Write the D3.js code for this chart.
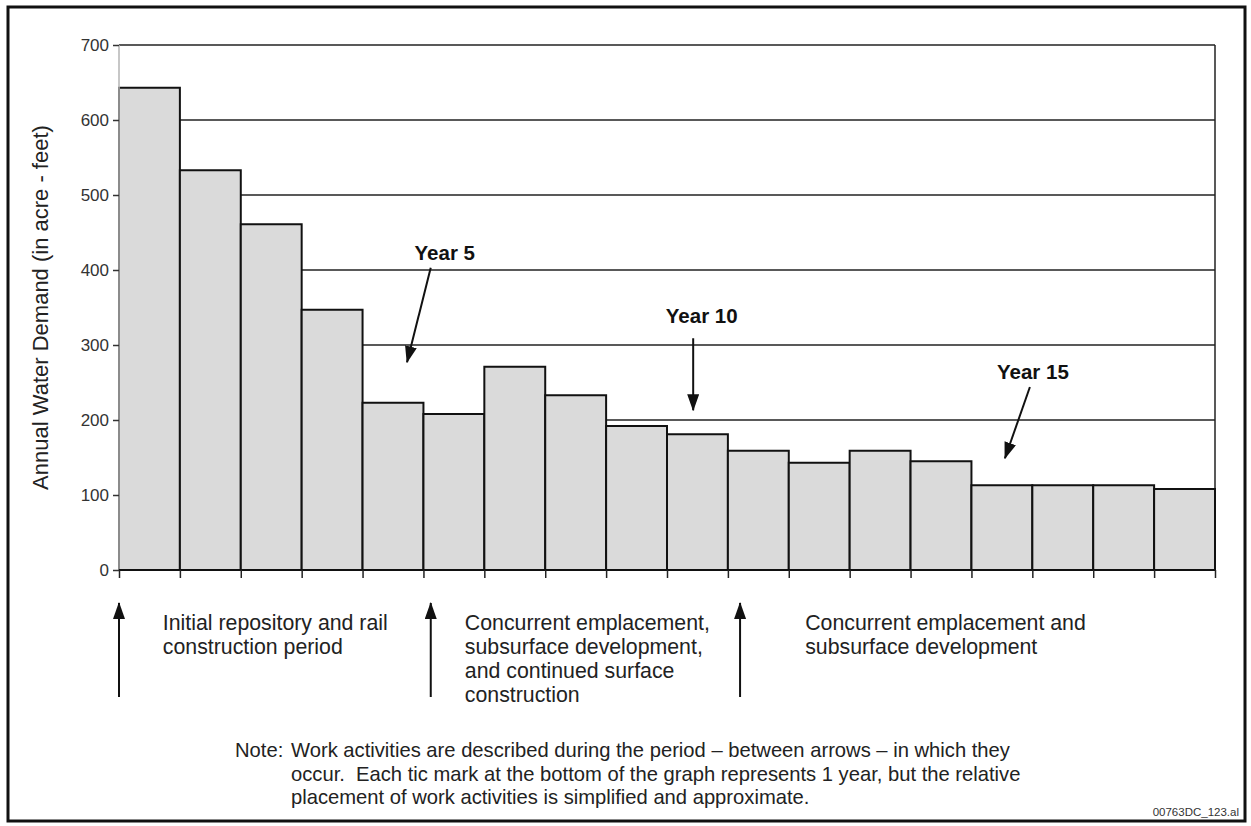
<!DOCTYPE html>
<html><head><meta charset="utf-8">
<script src="https://cdn.jsdelivr.net/npm/d3@7"></script>
<style>body{margin:0;background:#fff}svg{display:block;font-family:Arial,"Liberation Sans",sans-serif}</style>
</head><body><svg id="c" width="1251" height="826"></svg>
<script>
const years = d3.range(1, 19);
const demand = [643, 533, 461, 347, 223, 208, 271, 233, 192, 181, 159, 143, 159, 145, 113, 113, 113, 108];
const yTicks = [0, 100, 200, 300, 400, 500, 600, 700];
const yTitle = "Annual Water Demand (in acre - feet)";
const yearNotes = [
  {label: "Year 5", lx: 5.35, ly: 423, x1: 5.12, y1: 403, x2: 4.73, y2: 277},
  {label: "Year 10", lx: 9.57, ly: 339, x1: 9.43, y1: 309, x2: 9.43, y2: 213},
  {label: "Year 15", lx: 15.01, ly: 264, x1: 14.96, y1: 244, x2: 14.55, y2: 149}
];
const periodArrows = [0, 5.12, 10.2];
const periodTexts = [
  {x: 0.72, lines: ["Initial repository and rail", "construction period"]},
  {x: 5.68, lines: ["Concurrent emplacement,", "subsurface development,", "and continued surface", "construction"]},
  {x: 11.27, lines: ["Concurrent emplacement and", "subsurface development"]}
];
const noteLines = ["Work activities are described during the period \u2013 between arrows \u2013 in which they",
  "occur.  Each tic mark at the bottom of the graph represents 1 year, but the relative",
  "placement of work activities is simplified and approximate."];

const svg = d3.select("#c");
const L = 119, R = 1215, T = 45, B = 570;
const x = d3.scaleBand().domain(years).range([L, R]).paddingInner(0).paddingOuter(0);
const xl = d3.scaleLinear().domain([0, 18]).range([L, R]);
const y = d3.scaleLinear().domain([0, 700]).range([B, T]);

svg.append("defs").append("marker").attr("id", "ah").attr("viewBox", "0 0 17 12")
  .attr("refX", 16).attr("refY", 6).attr("markerWidth", 17).attr("markerHeight", 12)
  .attr("markerUnits", "userSpaceOnUse").attr("orient", "auto")
  .append("path").attr("d", "M0,0L17,6L0,12Z").attr("fill", "#111");

// frame
svg.append("rect").attr("x", 8).attr("y", 7).attr("width", 1237).attr("height", 814)
  .attr("fill", "none").attr("stroke", "#111").attr("stroke-width", 3);

// gridlines
svg.append("g").selectAll("line").data(yTicks.filter(d => d > 0)).join("line")
  .attr("x1", L).attr("x2", R).attr("y1", d => y(d)).attr("y2", d => y(d))
  .attr("stroke", "#222").attr("stroke-width", 1.5);
// right border
svg.append("line").attr("x1", R).attr("x2", R).attr("y1", T).attr("y2", B)
  .attr("stroke", "#222").attr("stroke-width", 1.5);

// bars
svg.append("g").selectAll("rect").data(years).join("rect")
  .attr("x", d => x(d)).attr("width", x.bandwidth())
  .attr("y", (d, i) => y(demand[i])).attr("height", (d, i) => B - y(demand[i]))
  .attr("fill", "#dadada").attr("stroke", "#111").attr("stroke-width", 2);

// left axis line (light)
svg.append("line").attr("x1", L).attr("x2", L).attr("y1", T).attr("y2", B)
  .attr("stroke", "#b5b5b5").attr("stroke-width", 1.5);

// y axis
const ya = svg.append("g").attr("transform", `translate(${L},0)`)
  .call(d3.axisLeft(y).tickValues(yTicks).tickSize(6).tickPadding(4).tickFormat(d3.format("d")));
ya.select(".domain").remove();
ya.selectAll(".tick line").attr("stroke", "#333").attr("stroke-width", 1.5);
ya.selectAll(".tick text").attr("font-size", 17).attr("fill", "#333").attr("font-family", "Arial, 'Liberation Sans', sans-serif");

// x axis
const xa = svg.append("g").attr("transform", `translate(0,${B})`)
  .call(d3.axisBottom(xl).tickValues(d3.range(0, 19)).tickSize(8).tickFormat(""));
xa.select(".domain").attr("stroke", "#111").attr("stroke-width", 2).attr("d", `M${L},0H${R}`);
xa.selectAll(".tick line").attr("stroke", "#222").attr("stroke-width", 1.5);

// y title
svg.append("text").attr("transform", `translate(48,${(T + B) / 2}) rotate(-90)`)
  .attr("text-anchor", "middle").attr("font-size", 22).attr("fill", "#222").text(yTitle);

// year annotations
const yn = svg.append("g");
yearNotes.forEach(n => {
  yn.append("text").attr("x", xl(n.lx)).attr("y", y(n.ly)).attr("dy", "0.35em")
    .attr("text-anchor", "middle").attr("font-size", 20.5).attr("font-weight", "bold").attr("fill", "#111").text(n.label);
  yn.append("line").attr("x1", xl(n.x1)).attr("y1", y(n.y1)).attr("x2", xl(n.x2)).attr("y2", y(n.y2))
    .attr("stroke", "#111").attr("stroke-width", 2).attr("marker-end", "url(#ah)");
});

// period arrows
svg.append("g").selectAll("line").data(periodArrows).join("line")
  .attr("x1", d => xl(d)).attr("x2", d => xl(d)).attr("y1", 697).attr("y2", 603)
  .attr("stroke", "#111").attr("stroke-width", 2).attr("marker-end", "url(#ah)");

// period texts
periodTexts.forEach(p => {
  const t = svg.append("text").attr("x", xl(p.x)).attr("y", 630).attr("font-size", 21.3).attr("fill", "#222");
  p.lines.forEach((ln, i) => t.append("tspan").attr("x", xl(p.x)).attr("y", 630 + i * 24).text(ln));
});

// note
svg.append("text").attr("x", 235).attr("y", 757).attr("font-size", 20.2).attr("fill", "#222").text("Note:");
const nt = svg.append("text").attr("font-size", 20.2).attr("fill", "#222").style("white-space", "pre");
noteLines.forEach((ln, i) => nt.append("tspan").attr("x", 291).attr("y", 757 + i * 23.5).text(ln));

svg.append("text").attr("x", 1239).attr("y", 816).attr("text-anchor", "end").attr("font-size", 11.5)
  .attr("fill", "#333").text("00763DC_123.al");
</script></body></html>
